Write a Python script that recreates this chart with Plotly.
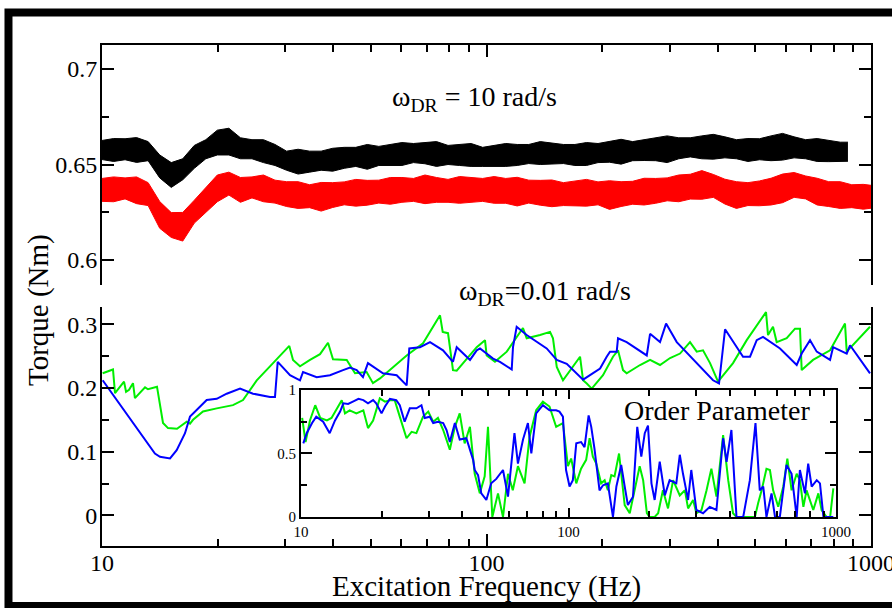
import plotly.graph_objects as go

# ---------------------------------------------------------------- data
# Top panel: torque at omega_DR = 10 rad/s (two runs), sampled every 0.03 decade
top_freq = [10.0, 10.72, 11.48, 12.30, 13.18, 14.13, 15.14, 16.22, 17.38, 18.62,
            19.95, 21.38, 22.91, 24.55, 26.30, 28.18, 30.20, 32.36, 34.67, 37.15,
            39.81, 42.66, 45.71, 48.98, 52.48, 56.23, 60.26, 64.57, 69.18, 74.13,
            79.43, 85.11, 91.20, 97.72, 104.7, 112.2, 120.2, 128.8, 138.0, 147.9,
            158.5, 169.8, 182.0, 195.0, 208.9, 223.9, 239.9, 257.0, 275.4, 295.1,
            316.2, 338.8, 363.1, 389.0, 416.9, 446.7, 478.6, 512.9, 549.5, 588.8,
            631.0, 676.1, 724.4, 776.2, 831.8, 891.3, 955.0, 1000.0]

black_freq = top_freq[:65] + [871.0]
black_mid = [0.6576, 0.6576, 0.6580, 0.6576, 0.6570, 0.6490, 0.6445, 0.6475, 0.6540, 0.6580,
             0.6615, 0.6620, 0.6585, 0.6580, 0.6570, 0.6550, 0.6520, 0.6515, 0.6515, 0.6520,
             0.6525, 0.6535, 0.6540, 0.6540, 0.6545, 0.6550, 0.6555, 0.6560, 0.6559, 0.6555,
             0.6550, 0.6550, 0.6550, 0.6540, 0.6545, 0.6550, 0.6550, 0.6555, 0.6560, 0.6559,
             0.6555, 0.6550, 0.6555, 0.6560, 0.6567, 0.6567, 0.6570, 0.6576, 0.6580, 0.6580,
             0.6585, 0.6590, 0.6590, 0.6593, 0.6590, 0.6580, 0.6576, 0.6580, 0.6585, 0.6593,
             0.6590, 0.6580, 0.6576, 0.6570, 0.6567, 0.6567]
black_spread = [0.0050, 0.0060, 0.0055, 0.0065, 0.0050, 0.0060, 0.0065, 0.0055, 0.0060, 0.0050,
                0.0065, 0.0070, 0.0055, 0.0050, 0.0060, 0.0055, 0.0050, 0.0065, 0.0055, 0.0050,
                0.0060, 0.0055, 0.0050, 0.0065, 0.0050, 0.0055, 0.0060, 0.0050, 0.0055, 0.0065,
                0.0050, 0.0055, 0.0060, 0.0050, 0.0055, 0.0060, 0.0055, 0.0050, 0.0060, 0.0055,
                0.0050, 0.0055, 0.0060, 0.0050, 0.0055, 0.0065, 0.0050, 0.0055, 0.0060, 0.0070,
                0.0055, 0.0050, 0.0060, 0.0065, 0.0055, 0.0050, 0.0060, 0.0055, 0.0065, 0.0070,
                0.0055, 0.0050, 0.0060, 0.0055, 0.0050, 0.0050]

red_mid = [0.6367, 0.6370, 0.6375, 0.6365, 0.6345, 0.6236, 0.6183, 0.6174, 0.6253, 0.6314,
           0.6375, 0.6400, 0.6367, 0.6380, 0.6375, 0.6358, 0.6345, 0.6340, 0.6334, 0.6331,
           0.6340, 0.6349, 0.6352, 0.6352, 0.6358, 0.6362, 0.6367, 0.6367, 0.6370, 0.6367,
           0.6362, 0.6367, 0.6367, 0.6367, 0.6367, 0.6362, 0.6358, 0.6358, 0.6352, 0.6349,
           0.6345, 0.6349, 0.6352, 0.6349, 0.6340, 0.6345, 0.6352, 0.6358, 0.6362, 0.6370,
           0.6375, 0.6384, 0.6393, 0.6388, 0.6358, 0.6340, 0.6345, 0.6349, 0.6358, 0.6375,
           0.6393, 0.6380, 0.6358, 0.6345, 0.6340, 0.6334, 0.6331, 0.6331]
red_spread = [0.0060, 0.0065, 0.0055, 0.0070, 0.0060, 0.0070, 0.0065, 0.0075, 0.0060, 0.0065,
              0.0070, 0.0060, 0.0065, 0.0055, 0.0070, 0.0060, 0.0065, 0.0070, 0.0060, 0.0075,
              0.0065, 0.0060, 0.0070, 0.0065, 0.0060, 0.0070, 0.0065, 0.0060, 0.0075, 0.0065,
              0.0060, 0.0070, 0.0065, 0.0060, 0.0070, 0.0065, 0.0075, 0.0060, 0.0065, 0.0070,
              0.0060, 0.0065, 0.0070, 0.0060, 0.0075, 0.0065, 0.0060, 0.0070, 0.0065, 0.0060,
              0.0070, 0.0065, 0.0075, 0.0060, 0.0065, 0.0070, 0.0060, 0.0065, 0.0070, 0.0075,
              0.0065, 0.0060, 0.0070, 0.0065, 0.0070, 0.0060, 0.0065, 0.0060]

# Bottom panel: torque at omega_DR = 0.01 rad/s
green_freq = [10.04, 10.68, 10.81, 11.41, 11.55, 11.76, 12.04, 12.18, 12.94, 13.17,
              13.90, 14.41, 14.85, 15.67, 16.61, 16.94, 17.25, 18.31, 19.88, 21.91,
              23.27, 25.26, 27.85, 30.70, 31.39, 32.73, 34.75, 36.90, 38.71, 39.88,
              43.30, 45.50, 48.78, 50.66, 52.84, 56.10, 62.00, 68.38, 75.70, 76.93,
              79.41, 81.82, 83.66, 94.30, 97.93, 99.10, 100.1, 105.2, 112.9, 117.2,
              124.4, 127.2, 137.8, 146.3, 148.9, 152.3, 158.1, 175.1, 178.3, 182.3,
              187.8, 200.9, 213.3, 219.8, 226.5, 231.5, 250.8, 266.3, 282.7, 300.2,
              318.7, 338.3, 352.2, 365.7, 381.4, 400.1, 437.7, 475.1, 533.3, 539.7,
              556.1, 568.5, 603.6, 634.4, 653.7, 660.3, 706.7, 782.6, 855.8, 864.6, 994.0]
green_torque = [0.223, 0.229, 0.192, 0.210, 0.194, 0.197, 0.2075, 0.184, 0.201, 0.198,
                0.202, 0.145, 0.137, 0.136, 0.147, 0.144, 0.150, 0.163, 0.168, 0.173,
                0.181, 0.212, 0.239, 0.266, 0.244, 0.234, 0.244, 0.253, 0.271, 0.245,
                0.244, 0.223, 0.225, 0.2075, 0.215, 0.228, 0.251, 0.270, 0.314, 0.288,
                0.286, 0.228, 0.227, 0.264, 0.272, 0.275, 0.251, 0.241, 0.257, 0.272,
                0.294, 0.278, 0.283, 0.288, 0.278, 0.233, 0.212, 0.249, 0.212, 0.207,
                0.199, 0.220, 0.249, 0.259, 0.228, 0.223, 0.236, 0.244, 0.236, 0.247,
                0.254, 0.272, 0.257, 0.259, 0.239, 0.210, 0.239, 0.275, 0.319, 0.283,
                0.296, 0.272, 0.278, 0.293, 0.293, 0.228, 0.244, 0.259, 0.301, 0.257, 0.296]

blue_freq = [10.04, 13.73, 14.15, 15.03, 15.64, 16.44, 16.94, 17.63, 18.72, 19.88,
             21.10, 22.86, 24.70, 27.35, 28.18, 28.64, 30.83, 32.73, 33.33, 36.17,
             39.17, 42.35, 44.16, 45.96, 47.72, 49.17, 51.79, 53.79, 58.40, 62.00,
             62.98, 67.14, 71.30, 77.07, 81.82, 83.66, 90.60, 94.30, 96.18, 102.1,
             104.0, 108.4, 116.3, 117.2, 119.8, 127.2, 143.4, 152.3, 161.7, 178.3,
             197.4, 205.4, 209.5, 218.1, 219.8, 231.5, 261.1, 266.3, 282.7, 293.1,
             312.5, 388.3, 402.5, 417.3, 464.7, 484.6, 504.4, 523.8, 546.2, 579.9,
             640.9, 660.3, 694.1, 722.5, 782.6, 796.8, 864.6, 882.0, 994.0]
blue_torque = [0.212, 0.097, 0.092, 0.0895, 0.1025, 0.129, 0.155, 0.165, 0.181, 0.183,
               0.191, 0.199, 0.191, 0.186, 0.186, 0.241, 0.220, 0.212, 0.225, 0.217,
               0.220, 0.228, 0.232, 0.228, 0.217, 0.239, 0.2305, 0.223, 0.220, 0.204,
               0.262, 0.264, 0.272, 0.259, 0.241, 0.264, 0.244, 0.259, 0.262, 0.249,
               0.246, 0.241, 0.229, 0.264, 0.296, 0.283, 0.262, 0.244, 0.238, 0.213,
               0.2305, 0.249, 0.257, 0.257, 0.278, 0.272, 0.251, 0.285, 0.272, 0.301,
               0.272, 0.212, 0.207, 0.292, 0.249, 0.249, 0.275, 0.280, 0.272, 0.262,
               0.236, 0.254, 0.275, 0.257, 0.244, 0.264, 0.254, 0.267, 0.223]

# Inset: order parameter
op_green_freq = [10.1, 10.4, 10.8, 11.3, 11.8, 12.5, 13.0, 13.6, 14.2, 14.6,
                 15.2, 16.1, 17.1, 17.8, 18.6, 19.7, 20.6, 21.5, 22.4, 23.4,
                 24.8, 25.9, 27.0, 28.6, 29.9, 31.2, 32.5, 34.0, 36.0, 37.6,
                 39.2, 40.9, 42.8, 44.6, 46.6, 48.6, 50.0, 51.9, 54.5, 56.9,
                 59.4, 61.9, 64.7, 68.5, 71.5, 75.7, 80.2, 84.9, 89.9, 95.3,
                 99.5, 102.3, 106.9, 111.4, 116.4, 119.9, 123.3, 127.0, 132.4, 136.5,
                 140.3, 144.5, 148.6, 154.5, 157.4, 162.2, 169.4, 176.6, 184.5, 190.1,
                 196.3, 201.0, 209.9, 216.3, 225.4, 235.5, 246.0, 260.6, 272.3, 279.9,
                 292.4, 300.6, 314.1, 328.1, 342.0, 357.3, 378.4, 395.4, 412.1, 424.6,
                 476.4, 497.7, 511.7, 527.2, 549.5, 566.2, 582.1, 608.1, 635.3, 657.7,
                 682.3, 712.8, 732.8, 755.1, 776.2, 822.2, 859.0, 883.1, 922.6, 950.6, 977.2]
op_green = [0.78, 0.59, 0.76, 0.88, 0.78, 0.76, 0.78, 0.856, 0.92, 0.816,
            0.84, 0.816, 0.84, 0.70, 0.76, 0.934, 0.908, 0.92, 0.92, 0.79,
            0.62, 0.67, 0.66, 0.79, 0.83, 0.75, 0.78, 0.685, 0.53, 0.71,
            0.816, 0.58, 0.71, 0.34, 0.186, 0.32, 0.71, 0.0, 0.186, 0.0,
            0.34, 0.21, 0.40, 0.265, 0.63, 0.84, 0.908, 0.87, 0.71, 0.74,
            0.40, 0.46, 0.265, 0.38, 0.45, 0.62, 0.475, 0.42, 0.265, 0.29,
            0.21, 0.33, 0.32, 0.50, 0.34, 0.094, 0.03, 0.21, 0.40, 0.29,
            0.03, 0.0, 0.0, 0.03, 0.21, 0.068, 0.29, 0.17, 0.21, 0.068,
            0.134, 0.03, 0.055, 0.21, 0.38, 0.16, 0.645, 0.29, 0.03, 0.0,
            0.0, 0.0, 0.11, 0.21, 0.38, 0.37, 0.21, 0.08, 0.24, 0.46,
            0.21, 0.34, 0.29, 0.08, 0.21, 0.055, 0.186, 0.055, 0.0, 0.0, 0.226]

op_blue_freq = [10.2, 10.5, 11.0, 11.4, 12.1, 12.8, 13.4, 14.0, 14.4, 15.0,
                15.7, 16.4, 17.1, 17.8, 18.6, 19.1, 20.0, 20.6, 21.5, 22.7,
                23.4, 24.4, 25.5, 27.0, 28.2, 29.0, 30.3, 31.2, 32.5, 34.0,
                35.0, 36.0, 37.6, 39.2, 41.5, 42.8, 44.0, 44.6, 45.9, 47.2,
                49.3, 51.4, 53.7, 56.9, 59.4, 62.8, 64.7, 67.6, 70.5, 72.6,
                75.7, 80.2, 84.9, 89.9, 92.5, 95.3, 97.9, 100.9, 103.8, 106.9,
                111.4, 114.8, 118.9, 121.6, 125.0, 130.6, 134.6, 140.3, 144.5, 146.6,
                151.0, 157.4, 162.2, 166.7, 174.2, 180.7, 187.1, 192.8, 198.2, 204.2,
                209.9, 219.3, 229.1, 238.8, 252.9, 260.6, 267.9, 279.9, 287.7, 300.6,
                318.4, 337.3, 357.3, 378.4, 389.9, 406.4, 424.6, 449.8, 476.4, 500.0,
                518.8, 534.6, 549.5, 574.1, 591.6, 616.6, 653.1, 682.3, 712.8, 732.8,
                765.6, 787.1, 810.9, 847.2, 871.0, 897.5, 977.2]
op_blue = [0.58, 0.66, 0.74, 0.79, 0.75, 0.66, 0.76, 0.83, 0.895, 0.89,
           0.91, 0.93, 0.92, 0.895, 0.92, 0.895, 0.816, 0.87, 0.93, 0.92,
           0.88, 0.75, 0.856, 0.856, 0.88, 0.78, 0.79, 0.74, 0.75, 0.74,
           0.685, 0.59, 0.74, 0.61, 0.62, 0.53, 0.45, 0.37, 0.33, 0.186,
           0.134, 0.265, 0.30, 0.37, 0.16, 0.66, 0.42, 0.61, 0.74, 0.50,
           0.816, 0.88, 0.84, 0.84, 0.83, 0.79, 0.37, 0.24, 0.29, 0.58,
           0.59, 0.55, 0.80, 0.71, 0.54, 0.21, 0.25, 0.265, 0.11, 0.0,
           0.24, 0.41, 0.24, 0.094, 0.16, 0.71, 0.475, 0.66, 0.72, 0.265,
           0.134, 0.435, 0.17, 0.29, 0.265, 0.49, 0.34, 0.134, 0.37, 0.055,
           0.03, 0.08, 0.055, 0.62, 0.435, 0.685, 0.0, 0.0, 0.29, 0.74,
           0.21, 0.24, 0.0, 0.186, 0.0, 0.0, 0.41, 0.34, 0.0, 0.37,
           0.186, 0.42, 0.24, 0.29, 0.265, 0.0, 0.0]

decade_ticks = [10, 100, 1000]
decade_labels = ["10", "100", "1000"]
minor_freq_ticks = [20, 30, 40, 50, 60, 70, 80, 90, 200, 300, 400, 500, 600, 700, 800, 900]

# ---------------------------------------------------------------- figure
SERIF = "Liberation Serif, Times New Roman, Times, serif"
fig = go.Figure()


def band(freq, mid, spread, color):
    """Noisy trace drawn as its filled min/max envelope."""
    upper = [m + s for m, s in zip(mid, spread)]
    lower = [m - s for m, s in zip(mid, spread)]
    fig.add_trace(go.Scatter(x=freq, y=upper, mode="lines", xaxis="x2", yaxis="y2",
                             line=dict(color=color, width=1), hoverinfo="skip"))
    fig.add_trace(go.Scatter(x=freq, y=lower, mode="lines", xaxis="x2", yaxis="y2",
                             line=dict(color=color, width=1), fill="tonexty",
                             fillcolor=color, hoverinfo="skip"))


band(black_freq, black_mid, black_spread, "#000000")
band(top_freq, red_mid, red_spread, "#ff0000")

fig.add_trace(go.Scatter(x=green_freq, y=green_torque, mode="lines",
                         line=dict(color="#00ee00", width=2)))
fig.add_trace(go.Scatter(x=blue_freq, y=blue_torque, mode="lines",
                         line=dict(color="#0000ff", width=2)))

fig.add_trace(go.Scatter(x=op_green_freq, y=op_green, mode="lines", xaxis="x3", yaxis="y3",
                         line=dict(color="#00ee00", width=2)))
fig.add_trace(go.Scatter(x=op_blue_freq, y=op_blue, mode="lines", xaxis="x3", yaxis="y3",
                         line=dict(color="#0000ff", width=2)))

tick_font = dict(family=SERIF, size=24, color="black")
inset_font = dict(family=SERIF, size=15, color="black")

common_x = dict(type="log", range=[1, 3], showgrid=False, zeroline=False, automargin=False,
                showline=True, linecolor="black", linewidth=2, ticklabeloverflow="allow",
                ticks="inside", ticklen=12, tickwidth=1.5, tickcolor="black",
                tickmode="array", tickvals=decade_ticks, ticktext=decade_labels,
                minor=dict(ticks="inside", ticklen=7, tickwidth=1.5, tickcolor="black",
                           tickmode="array", tickvals=minor_freq_ticks, showgrid=False))
common_y = dict(showgrid=False, zeroline=False, automargin=False, showline=True,
                linecolor="black", linewidth=2, mirror="ticks", ticks="inside",
                ticklen=12, tickwidth=1.5, tickcolor="black", tickmode="array")

fig.update_layout(
    width=892, height=608,
    margin=dict(l=102, r=21, t=45, b=62),
    paper_bgcolor="white", plot_bgcolor="rgba(0,0,0,0)",
    showlegend=False,
    xaxis=dict(common_x, domain=[0, 1], anchor="y", tickfont=tick_font, mirror=False,
               ticklabelstandoff=-6),
    yaxis=dict(common_y, domain=[0, 0.477], anchor="x", range=[-0.048, 0.327],
               tickvals=[0, 0.1, 0.2, 0.3], ticktext=["0", "0.1", "0.2", "0.3"],
               tickfont=tick_font, ticklabelstandoff=-2,
               minor=dict(ticks="inside", ticklen=7, tickwidth=1.5, tickcolor="black",
                          tickmode="array", tickvals=[0.05, 0.15, 0.25], showgrid=False)),
    xaxis2=dict(common_x, domain=[0, 1], anchor="y2", side="top", showticklabels=False,
                mirror=False, matches="x"),
    yaxis2=dict(common_y, domain=[0.521, 1], anchor="x2", range=[0.5869, 0.7126],
                tickvals=[0.6, 0.65, 0.7], ticktext=["0.6", "0.65", "0.7"],
                tickfont=tick_font, ticklabelstandoff=-2,
                minor=dict(ticks="inside", ticklen=7, tickwidth=1.5, tickcolor="black",
                           tickmode="array", tickvals=[0.625, 0.675], showgrid=False)),
    xaxis3=dict(common_x, domain=[0.2588, 0.9545], anchor="y3", mirror="ticks",
                ticklen=9, tickfont=inset_font,
                minor=dict(ticks="inside", ticklen=6, tickwidth=1.5, tickcolor="black",
                           tickmode="array", tickvals=minor_freq_ticks, showgrid=False)),
    yaxis3=dict(common_y, domain=[0.0579, 0.3114], anchor="x3", range=[0, 1],
                ticklen=11, tickvals=[0, 0.5, 1], ticktext=["0", "0.5", "1"],
                tickfont=inset_font,
                minor=dict(ticks="inside", ticklen=6, tickwidth=1.5, tickcolor="black",
                           tickmode="array", tickvals=[0.25, 0.75], showgrid=False)),
)

# white backdrop of the inset, then the outer black frame
fig.add_shape(type="rect", xref="x3 domain", yref="y3 domain", x0=0, x1=1, y0=0, y1=1,
              fillcolor="white", line=dict(width=0), layer="below")
fig.add_shape(type="rect", xref="paper", yref="paper",
              x0=-0.1216, x1=1.044, y0=-0.1198, y1=1.0649,
              line=dict(color="black", width=8), fillcolor="rgba(0,0,0,0)")

ann_font = dict(family=SERIF, size=28, color="black")
fig.add_annotation(text="ω<sub>DR</sub> = 10 rad/s", xref="paper", yref="paper",
                   x=0.485, y=0.894, showarrow=False, font=ann_font,
                   xanchor="center", yanchor="middle")
fig.add_annotation(text="ω<sub>DR</sub>=0.01 rad/s", xref="paper", yref="paper",
                   x=0.576, y=0.505, showarrow=False, font=ann_font,
                   xanchor="center", yanchor="middle")
fig.add_annotation(text="Order Parameter", xref="paper", yref="paper",
                   x=0.800, y=0.271, showarrow=False, font=ann_font,
                   xanchor="center", yanchor="middle")
fig.add_annotation(text="Torque (Nm)", xref="paper", yref="paper",
                   x=-0.0832, y=0.471, showarrow=False, textangle=-90,
                   font=dict(family=SERIF, size=29, color="black"),
                   xanchor="center", yanchor="middle")
fig.add_annotation(text="Excitation Frequency (Hz)", xref="paper", yref="paper",
                   x=0.5, y=-0.080, showarrow=False,
                   font=dict(family=SERIF, size=29, color="black"),
                   xanchor="center", yanchor="middle")

fig.write_html("out.html")
